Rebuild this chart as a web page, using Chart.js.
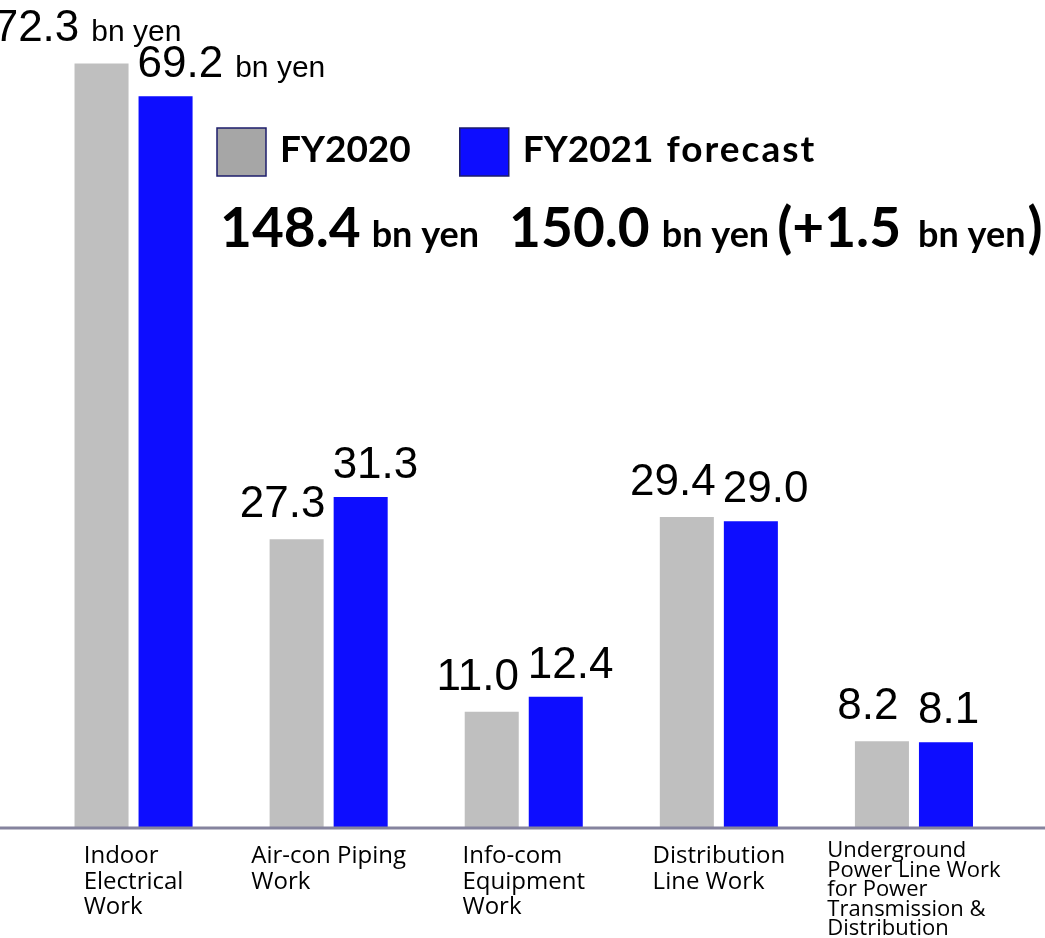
<!DOCTYPE html>
<html>
<head>
<meta charset="utf-8">
<title>Sales by work type</title>
<script src="https://cdn.jsdelivr.net/npm/chart.js@4.4.1/dist/chart.umd.min.js"></script>
<style>
  html, body { margin: 0; padding: 0; background: #fff; }
  #wrap { width: 1045px; height: 938px; position: relative; }
</style>
</head>
<body>
<div id="wrap"><canvas id="chart"></canvas></div>
<script>
// work types, split into the lines printed under the axis
const categories = [
  ['Indoor', 'Electrical', 'Work'],
  ['Air-con Piping', 'Work'],
  ['Info-com', 'Equipment', 'Work'],
  ['Distribution', 'Line Work'],
  ['Underground', 'Power Line Work', 'for Power', 'Transmission &', 'Distribution']
];
const seriesNames = ['FY2020', 'FY2021 forecast'];
const fy2020 = [72.3, 27.3, 11.0, 29.4, 8.2];
const fy2021 = [69.2, 31.3, 12.4, 29.0, 8.1];
const totalFY2020 = '148.4';
const totalFY2021 = '150.0';
const totalChange = '+1.5';
const unit = 'bn yen';

const GRAY = '#bfbfbf';
const BLUE = '#0d0dff';
const keyColors = ['#a6a6a6', BLUE];

const NUM_FONT = '44px "Liberation Sans", Arial, sans-serif';
const UNIT_FONT = '30px "Liberation Sans", Arial, sans-serif';
const BIG_BOLD = 'bold 55px Lato, sans-serif';
const MID_BOLD = 'bold 36px Lato, sans-serif';
const KEY_FONT = 'bold 37px Lato, sans-serif';

// fills a string word by word, lowercase words spaced out a little
function fillKeyText(ctx, text, x, y) {
  text.split(' ').forEach((word, n) => {
    ctx.letterSpacing = /[a-z]/.test(word) ? '2px' : '0px';
    if (n > 0) x += 13;
    ctx.fillText(word, x, y);
    x += ctx.measureText(word).width;
  });
  ctx.letterSpacing = '0px';
  return x;
}

// draws baseline, value labels, key, totals and category names
const overlay = {
  id: 'overlay',
  afterDatasetsDraw(chart) {
    const { ctx, scales: { x, y } } = chart;
    const y0 = y.getPixelForValue(0);
    ctx.save();

    ctx.strokeStyle = '#85849e';
    ctx.lineWidth = 3;
    ctx.beginPath();
    ctx.moveTo(0, y0);
    ctx.lineTo(chart.width, y0);
    ctx.stroke();

    // values above the bars (unit only on the first pair)
    ctx.fillStyle = '#000';
    ctx.textAlign = 'left';
    ctx.textBaseline = 'alphabetic';
    chart.data.datasets.forEach((ds, di) => {
      chart.getDatasetMeta(di).data.forEach((bar, i) => {
        const num = ds.data[i].toFixed(1);
        ctx.font = NUM_FONT;
        const wNum = ctx.measureText(num).width;
        let wUnit = 0;
        if (i === 0) {
          ctx.font = UNIT_FONT;
          wUnit = 12 + ctx.measureText(unit).width;
        }
        const left = di === 0 ? bar.x - 14 - (wNum + wUnit) / 2 : bar.x - bar.width / 2 - 1;
        const base = bar.y - (di === 0 ? 22 : 19);
        ctx.font = NUM_FONT;
        ctx.fillText(num, left, base);
        if (i === 0) {
          ctx.font = UNIT_FONT;
          ctx.fillText(unit, left + wNum + 12, base);
        }
      });
    });

    // key
    let kx = 217;
    seriesNames.forEach((name, k) => {
      ctx.fillStyle = keyColors[k];
      ctx.fillRect(kx, 128, 49, 48);
      ctx.strokeStyle = '#1c1c6b';
      ctx.lineWidth = 1.5;
      ctx.strokeRect(kx, 128, 49, 48);
      ctx.fillStyle = '#000';
      ctx.font = KEY_FONT;
      const end = fillKeyText(ctx, name, kx + 63, 162);
      kx = end + 49;
    });

    // totals line
    const parts = [
      [totalFY2020, BIG_BOLD, 0],
      [unit, MID_BOLD, 11],
      [totalFY2021, BIG_BOLD, 30],
      [unit, MID_BOLD, 12],
      ['(' + totalChange, BIG_BOLD, 8],
      [unit, MID_BOLD, 17],
      [')', BIG_BOLD, 2]
    ];
    let tx = 220;
    parts.forEach(([t, f, gap]) => {
      tx += gap;
      ctx.font = f;
      ctx.fillText(t, tx, 247);
      tx += ctx.measureText(t).width;
    });

    // category names: block centred on the category, lines left aligned
    categories.forEach((lines, i) => {
      const long = lines.length > 3;
      ctx.font = long ? '22px "Open Sans", sans-serif' : '24px "Open Sans", sans-serif';
      const lh = long ? 19.5 : 25.5;
      const w = Math.max(...lines.map(l => ctx.measureText(l).width));
      const left = x.getPixelForValue(i) - w / 2;
      const first = long ? 857 : 863;
      lines.forEach((l, j) => ctx.fillText(l, left, first + j * lh));
    });

    ctx.restore();
  }
};

new Chart(document.getElementById('chart'), {
  type: 'bar',
  data: {
    labels: categories,
    datasets: [
      { label: seriesNames[0], data: fy2020, backgroundColor: GRAY },
      { label: seriesNames[1], data: fy2021, backgroundColor: BLUE }
    ]
  },
  options: {
    responsive: true,
    maintainAspectRatio: false,
    animation: false,
    categoryPercentage: 0.6564,
    barPercentage: 0.8438,
    layout: { padding: { left: 36, right: 33.5, top: 0, bottom: 110 } },
    scales: {
      x: { display: false },
      y: { display: false, min: 0, max: 78.3 }
    },
    plugins: {
      legend: { display: false },
      tooltip: { enabled: false }
    }
  },
  plugins: [overlay]
});
</script>
</body>
</html>
